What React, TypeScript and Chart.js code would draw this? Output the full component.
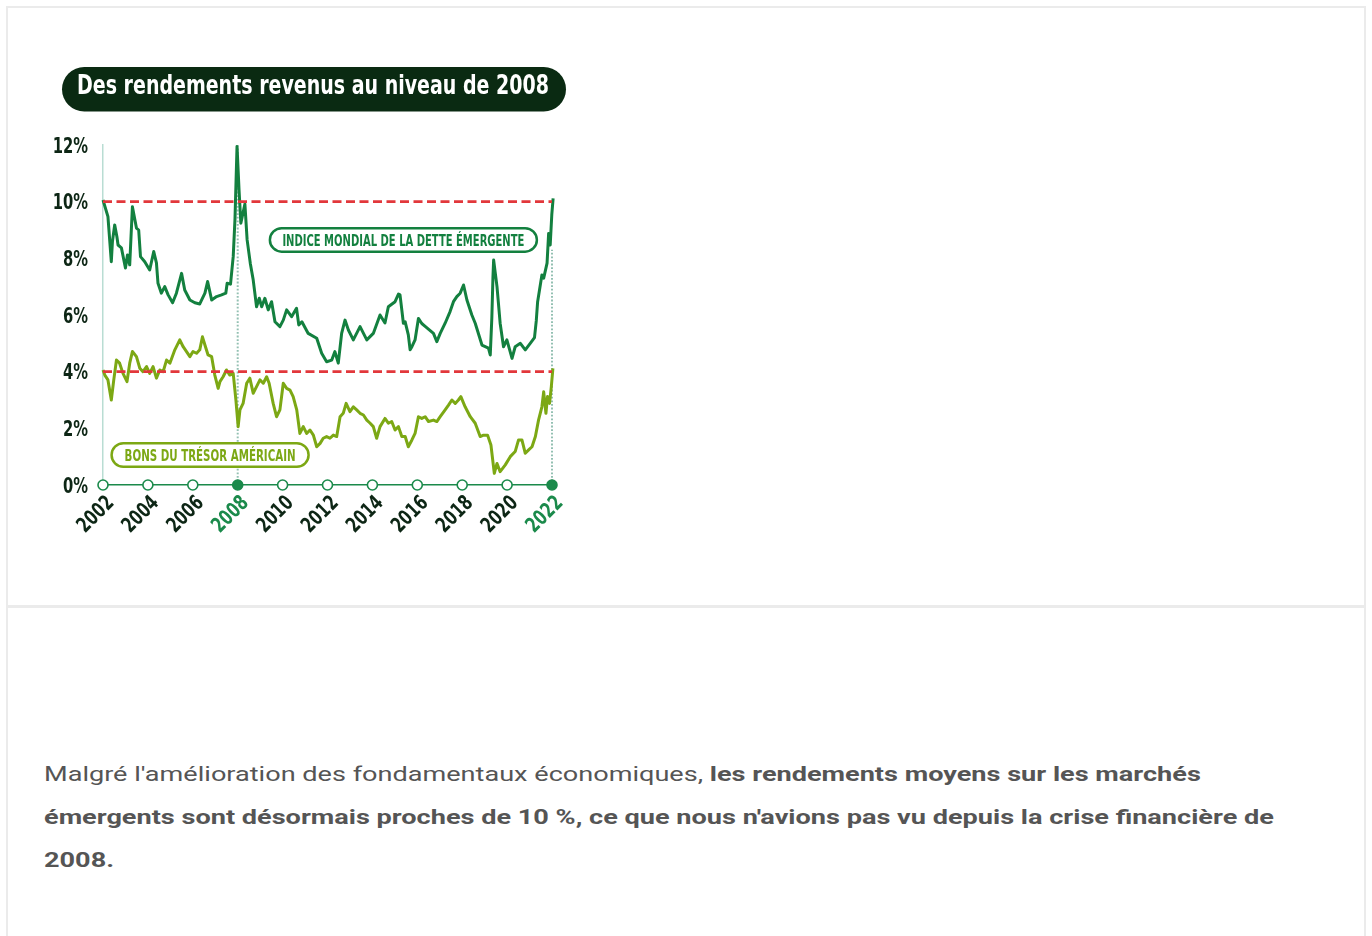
import React, { useEffect, useRef } from 'react';
import { Chart, registerables } from 'chart.js';

Chart.register(...registerables);

// ---------- text ----------
const chartTitle = 'Des rendements revenus au niveau de 2008';
const emLabel = 'INDICE MONDIAL DE LA DETTE ÉMERGENTE';
const ustLabel = 'BONS DU TRÉSOR AMÉRICAIN';

// ---------- axes ----------
const xTickYears = [2002, 2004, 2006, 2008, 2010, 2012, 2014, 2016, 2018, 2020, 2022];
const highlightedYears = [2008, 2022];
const yTickValues = [0, 2, 4, 6, 8, 10, 12];
const referenceLevels = [10, 4];
const guideYears = [2008, 2022];
const guideTops = [12, 8.3];

// ---------- series: emerging market debt index yield (%) ----------
const emYears = [
  2002.0, 2002.22, 2002.37, 2002.42, 2002.52, 2002.62, 2002.67, 2002.82, 2003.0, 2003.09,
  2003.19, 2003.31, 2003.49, 2003.59, 2003.67, 2003.86, 2004.08, 2004.26, 2004.38, 2004.45,
  2004.6, 2004.75, 2004.9, 2005.1, 2005.27, 2005.5, 2005.64, 2005.87, 2006.09, 2006.31,
  2006.54, 2006.66, 2006.84, 2007.06, 2007.28, 2007.47, 2007.53, 2007.68, 2007.8, 2007.88,
  2007.97, 2008.06, 2008.14, 2008.32, 2008.42, 2008.56, 2008.69, 2008.84, 2008.96, 2009.07,
  2009.21, 2009.36, 2009.51, 2009.66, 2009.88, 2010.03, 2010.18, 2010.4, 2010.62, 2010.72,
  2010.86, 2011.14, 2011.52, 2011.74, 2011.96, 2012.19, 2012.33, 2012.48, 2012.63, 2012.78,
  2012.93, 2013.15, 2013.45, 2013.75, 2014.04, 2014.34, 2014.56, 2014.71, 2015.01, 2015.16,
  2015.23, 2015.31, 2015.38, 2015.46, 2015.6, 2015.68, 2015.76, 2015.9, 2016.05, 2016.2,
  2016.35, 2016.72, 2016.87, 2017.02, 2017.24, 2017.46, 2017.61, 2017.76, 2017.91, 2018.06,
  2018.21, 2018.43, 2018.58, 2018.88, 2019.17, 2019.25, 2019.32, 2019.37, 2019.4, 2019.55,
  2019.69, 2019.84, 2019.99, 2020.22, 2020.36, 2020.59, 2020.81, 2021.03, 2021.22, 2021.3,
  2021.36, 2021.55, 2021.63, 2021.78, 2021.85, 2021.92, 2021.99, 2022.05,
];
const emYield = [
  10.06, 9.47, 7.88, 8.59, 9.18, 8.76, 8.47, 8.37, 7.66, 8.12,
  7.77, 9.82, 9.07, 9.0, 8.06, 7.88, 7.59, 8.24, 7.84, 7.12,
  6.77, 7.0, 6.71, 6.43, 6.77, 7.47, 6.88, 6.53, 6.43, 6.39,
  6.77, 7.18, 6.53, 6.65, 6.71, 6.77, 7.12, 7.09, 8.06, 9.4,
  11.95, 10.41, 9.24, 9.92, 8.65, 7.83, 7.24, 6.29, 6.59, 6.29,
  6.59, 6.18, 6.47, 5.76, 5.59, 5.82, 6.18, 5.94, 6.24, 5.65,
  5.76, 5.35, 5.18, 4.65, 4.35, 4.41, 4.71, 4.3, 5.35, 5.82,
  5.47, 5.12, 5.59, 5.12, 5.35, 6.0, 5.72, 6.29, 6.47, 6.74,
  6.71, 6.18, 5.71, 5.76, 5.3, 4.77, 4.88, 5.12, 5.88, 5.7,
  5.6, 5.35, 5.06, 5.35, 5.71, 6.12, 6.47, 6.65, 6.77, 7.06,
  6.53, 6.0, 5.71, 4.94, 4.83, 4.59, 5.9, 7.35, 7.94, 7.0,
  5.71, 4.88, 5.12, 4.47, 4.88, 5.0, 4.77, 5.0, 5.2, 5.8,
  6.47, 7.41, 7.3, 7.83, 8.88, 8.47, 9.53, 10.12,
];

// ---------- series: US Treasury yield (%) ----------
const ustYears = [
  2002.0, 2002.08, 2002.22, 2002.37, 2002.48, 2002.6, 2002.74, 2002.89, 2003.07, 2003.19,
  2003.31, 2003.49, 2003.64, 2003.78, 2003.94, 2004.08, 2004.23, 2004.38, 2004.53, 2004.68,
  2004.83, 2004.98, 2005.2, 2005.42, 2005.57, 2005.72, 2005.87, 2006.01, 2006.17, 2006.31,
  2006.43, 2006.54, 2006.68, 2006.84, 2006.98, 2007.13, 2007.21, 2007.35, 2007.5, 2007.65,
  2007.8, 2007.92, 2008.02, 2008.1, 2008.24, 2008.4, 2008.54, 2008.69, 2008.84, 2008.99,
  2009.14, 2009.29, 2009.4, 2009.58, 2009.73, 2009.88, 2010.03, 2010.18, 2010.33, 2010.47,
  2010.63, 2010.77, 2010.92, 2011.07, 2011.22, 2011.37, 2011.52, 2011.67, 2011.81, 2011.96,
  2012.11, 2012.26, 2012.41, 2012.56, 2012.7, 2012.83, 2013.0, 2013.15, 2013.3, 2013.45,
  2013.6, 2013.75, 2013.9, 2014.04, 2014.19, 2014.34, 2014.56, 2014.71, 2014.86, 2015.01,
  2015.16, 2015.31, 2015.46, 2015.6, 2015.76, 2015.9, 2016.05, 2016.2, 2016.35, 2016.5,
  2016.72, 2016.87, 2017.02, 2017.24, 2017.39, 2017.54, 2017.69, 2017.83, 2017.94, 2018.13,
  2018.36, 2018.58, 2018.8, 2018.95, 2019.13, 2019.28, 2019.43, 2019.55, 2019.69, 2019.92,
  2020.14, 2020.36, 2020.51, 2020.66, 2020.81, 2020.96, 2021.11, 2021.26, 2021.4, 2021.55,
  2021.63, 2021.73, 2021.8, 2021.89, 2021.97, 2022.04,
];
const ustYield = [
  4.06, 3.88, 3.71, 3.0, 3.71, 4.41, 4.3, 3.94, 3.65, 4.3,
  4.71, 4.53, 4.12, 4.0, 4.18, 3.94, 4.18, 3.77, 4.06, 4.0,
  4.41, 4.3, 4.77, 5.12, 4.88, 4.71, 4.53, 4.71, 4.65, 4.77,
  5.23, 4.94, 4.59, 4.53, 3.88, 3.41, 3.65, 3.82, 4.06, 3.88,
  3.94, 3.0, 2.06, 2.65, 2.88, 3.59, 3.77, 3.24, 3.47, 3.71,
  3.59, 3.82, 3.59, 2.88, 2.41, 2.65, 3.59, 3.41, 3.35, 3.12,
  2.65, 1.82, 2.06, 1.82, 1.94, 1.76, 1.35, 1.47, 1.65, 1.71,
  1.65, 1.76, 1.71, 2.41, 2.53, 2.88, 2.59, 2.76, 2.65, 2.53,
  2.47, 2.29, 2.18, 2.06, 1.65, 2.06, 2.35, 2.18, 2.24, 1.94,
  2.06, 1.71, 1.71, 1.35, 1.59, 1.82, 2.41, 2.35, 2.41, 2.24,
  2.29, 2.24, 2.41, 2.65, 2.82, 3.0, 2.88, 3.0, 3.12, 2.76,
  2.41, 2.18, 1.71, 1.76, 1.76, 1.41, 0.41, 0.76, 0.47, 0.71,
  1.0, 1.18, 1.59, 1.59, 1.12, 1.24, 1.35, 1.71, 2.29, 2.76,
  3.29, 2.53, 3.12, 2.88, 3.47, 4.12,
];

// ---------- label anchors (data coordinates) ----------
const emLabelAnchor = { year: 2015.38, value: 8.65 };
const ustLabelAnchor = { year: 2006.77, value: 1.06 };

// ---------- styles ----------
const CONDENSED = '"DejaVu Sans Condensed", "DejaVu Sans", "Liberation Sans", sans-serif';
const EM_GREEN = '#13803f';
const UST_OLIVE = '#7ca814';
const RED = '#e2373b';
const AXIS_GREEN = '#1b8a4b';
const DARK = '#0d2615';
const GUIDE = '#93c0b2';
const TITLE_BG = '#0a2a12';

function fitText(
  ctx: CanvasRenderingContext2D,
  text: string,
  cx: number,
  baseline: number,
  targetW: number,
  fontPx: number,
  color: string,
) {
  ctx.save();
  ctx.font = `bold ${fontPx}px ${CONDENSED}`;
  const w = ctx.measureText(text).width;
  ctx.translate(cx, baseline);
  ctx.scale(targetW / w, 1);
  ctx.fillStyle = color;
  ctx.textAlign = 'center';
  ctx.textBaseline = 'alphabetic';
  ctx.fillText(text, 0, 0);
  ctx.restore();
}

function drawPill(
  ctx: CanvasRenderingContext2D,
  cx: number,
  cy: number,
  w: number,
  h: number,
  color: string,
  text: string,
  textW: number,
  fontPx: number,
  capH: number,
) {
  ctx.save();
  ctx.beginPath();
  ctx.roundRect(cx - w / 2, cy - h / 2, w, h, h / 2);
  ctx.fillStyle = '#ffffff';
  ctx.fill();
  ctx.lineWidth = 2.5;
  ctx.strokeStyle = color;
  ctx.stroke();
  ctx.restore();
  fitText(ctx, text, cx, cy + capH / 2, textW, fontPx, color);
}

// tick labels drawn in a condensed style, positioned by the chart's own scales
const tickLabelPlugin = {
  id: 'condensedTicks',
  afterDraw(chart: any) {
    const { ctx } = chart;
    const xs = chart.scales.x;
    const ys = chart.scales.y;
    ctx.save();
    ctx.font = `bold 20.5px ${CONDENSED}`;
    ctx.fillStyle = DARK;
    ctx.textAlign = 'right';
    ctx.textBaseline = 'alphabetic';
    ys.ticks.forEach((t: any) => {
      const py = ys.getPixelForValue(t.value);
      ctx.save();
      ctx.translate(ys.right - 15, py + 7.5);
      ctx.scale(0.8, 1);
      ctx.fillText(`${t.value}%`, 0, 0);
      ctx.restore();
    });
    ctx.font = `bold 21px ${CONDENSED}`;
    ctx.textBaseline = 'middle';
    xs.ticks.forEach((t: any) => {
      const px = xs.getPixelForValue(t.value);
      ctx.save();
      ctx.translate(px + 8, xs.top + 15);
      ctx.rotate(-Math.PI / 4);
      ctx.scale(0.8, 1);
      ctx.fillStyle = highlightedYears.includes(t.value) ? AXIS_GREEN : DARK;
      ctx.fillText(String(t.value), 0, 0);
      ctx.restore();
    });
    ctx.restore();
  },
};

const decorPlugin = {
  id: 'decor',
  afterDatasetsDraw(chart: any) {
    const { ctx } = chart;
    const xs = chart.scales.x;
    const ys = chart.scales.y;
    drawPill(
      ctx,
      xs.getPixelForValue(emLabelAnchor.year),
      ys.getPixelForValue(emLabelAnchor.value),
      267,
      23.5,
      EM_GREEN,
      emLabel,
      242,
      16.5,
      12,
    );
    drawPill(
      ctx,
      xs.getPixelForValue(ustLabelAnchor.year),
      ys.getPixelForValue(ustLabelAnchor.value),
      197,
      23.5,
      UST_OLIVE,
      ustLabel,
      171,
      16,
      11.7,
    );
  },
  afterDraw(chart: any) {
    const { ctx } = chart;
    ctx.save();
    ctx.beginPath();
    ctx.roundRect(62, 67, 504, 44.5, 22.25);
    ctx.fillStyle = TITLE_BG;
    ctx.fill();
    ctx.restore();
    fitText(ctx, chartTitle, 313, 94, 472, 26, '#ffffff');
  },
};

function ChartCanvas() {
  const ref = useRef<HTMLCanvasElement | null>(null);
  useEffect(() => {
    if (!ref.current) return;
    const em = emYears.map((x, i) => ({ x, y: emYield[i] }));
    const ust = ustYears.map((x, i) => ({ x, y: ustYield[i] }));
    const markers = xTickYears.map((x) => ({ x, y: 0 }));
    const refSets = referenceLevels.map((lvl) => ({
      type: 'line' as const,
      data: [
        { x: xTickYears[0], y: lvl },
        { x: xTickYears[xTickYears.length - 1], y: lvl },
      ],
      borderColor: RED,
      borderWidth: 2.6,
      borderDash: [9, 4.5],
      pointRadius: 0,
      order: 1,
      clip: false as any,
    }));
    const guideSets = guideYears.map((yr, i) => ({
      type: 'line' as const,
      data: [
        { x: yr, y: 0 },
        { x: yr, y: guideTops[i] },
      ],
      borderColor: GUIDE,
      borderWidth: 2,
      borderDash: [1.8, 1.8],
      pointRadius: 0,
      order: 5,
      clip: false as any,
    }));
    const chart = new Chart(ref.current, {
      type: 'line',
      data: {
        datasets: [
          {
            data: markers,
            showLine: false,
            pointRadius: 5,
            pointHoverRadius: 5,
            pointBorderWidth: 1.6,
            pointBorderColor: AXIS_GREEN,
            pointBackgroundColor: (c: any) =>
              highlightedYears.includes(c.raw?.x) ? AXIS_GREEN : '#ffffff',
            order: 0,
            clip: false as any,
          },
          ...refSets,
          {
            data: em,
            borderColor: EM_GREEN,
            borderWidth: 3,
            pointRadius: 0,
            tension: 0,
            borderJoinStyle: 'round',
            order: 2,
            clip: false as any,
          },
          {
            data: ust,
            borderColor: UST_OLIVE,
            borderWidth: 3,
            pointRadius: 0,
            tension: 0,
            borderJoinStyle: 'round',
            order: 3,
            clip: false as any,
          },
          ...guideSets,
        ] as any,
      },
      options: {
        responsive: false,
        animation: false,
        devicePixelRatio: 1,
        events: [],
        layout: { padding: { left: 43, right: 48, top: 145, bottom: 0 } },
        plugins: {
          legend: { display: false },
          tooltip: { enabled: false },
          title: { display: false },
        },
        scales: {
          x: {
            type: 'linear',
            min: xTickYears[0],
            max: xTickYears[xTickYears.length - 1],
            grid: { display: false, drawTicks: false },
            border: { display: true, color: AXIS_GREEN, width: 1.5 },
            afterFit: (s: any) => {
              s.height = 95;
            },
            afterBuildTicks: (s: any) => {
              s.ticks = xTickYears.map((v) => ({ value: v }));
            },
            ticks: { display: false, autoSkip: false, callback: (v: any) => String(v) },
          },
          y: {
            type: 'linear',
            min: yTickValues[0],
            max: yTickValues[yTickValues.length - 1],
            grid: { display: false, drawTicks: false },
            border: { display: true, color: '#b9ddd3', width: 1.5 },
            afterFit: (s: any) => {
              s.width = 60;
            },
            afterBuildTicks: (s: any) => {
              s.ticks = yTickValues.map((v) => ({ value: v }));
            },
            ticks: { display: false, callback: (v: any) => `${v}%` },
          },
        },
      } as any,
      plugins: [decorPlugin, tickLabelPlugin],
    });
    return () => chart.destroy();
  }, []);
  return (
    <canvas
      ref={ref}
      width={600}
      height={580}
      style={{ position: 'absolute', left: 0, top: 0, width: 600, height: 580 }}
    />
  );
}

export default function App() {
  return (
    <div style={{ position: 'absolute', left: 0, top: 0, width: 1372, height: 936, overflow: 'hidden', background: '#fff' }}>
      <div
        style={{
          position: 'absolute',
          left: 6,
          top: 6,
          width: 1360,
          height: 1000,
          border: '2px solid #ebebeb',
          boxSizing: 'border-box',
        }}
      />
      <div style={{ position: 'absolute', left: 8, top: 605, width: 1356, height: 3, background: '#ebebeb' }} />
      <ChartCanvas />
      <div
        style={{
          position: 'absolute',
          left: 44,
          top: 753,
          width: 980,
          fontFamily: 'Roboto, "Liberation Sans", sans-serif',
          fontSize: 21,
          lineHeight: '43px',
          color: '#555555',
          transform: 'scaleX(1.29)',
          transformOrigin: '0 0',
        }}
      >
        Malgré l'amélioration des fondamentaux économiques,{' '}
        <strong style={{ fontWeight: 700 }}>
          les rendements moyens sur les marchés émergents sont désormais proches de 10 %, ce que nous
          n'avions pas vu depuis la crise financière de 2008.
        </strong>
      </div>
    </div>
  );
}
